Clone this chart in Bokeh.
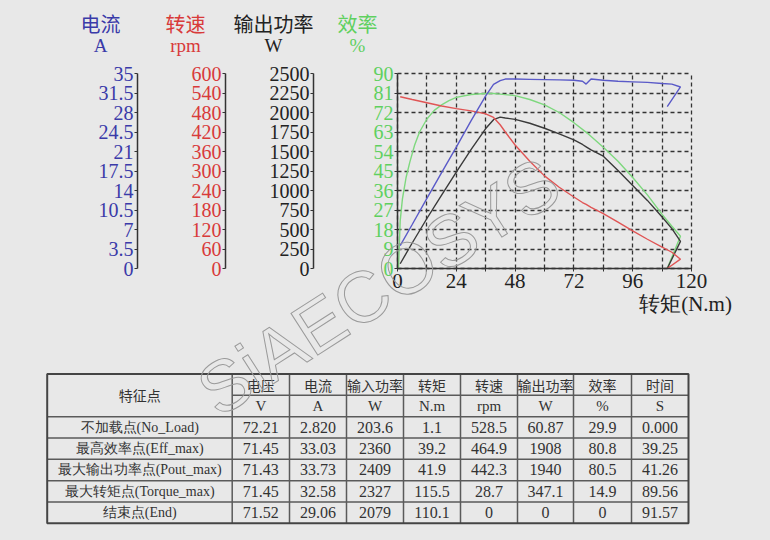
from bokeh.plotting import figure
from bokeh.models import Range1d, LinearAxis, FixedTicker, Label, ColumnDataSource, Grid
from bokeh.embed import file_html
from bokeh.resources import INLINE
from bokeh.core.properties import value

# ---------------- data ----------------
torque = [1.1, 6, 12, 18, 24, 30, 36, 39.2, 41.9, 44, 48, 54, 60, 66, 72, 75.5, 77, 79,
          84, 90, 96, 102, 108, 112, 115.5, 110.1]
current_a = [4.1, 7.9, 12.6, 17.2, 21.8, 26.5, 31.0, 33.03, 33.73, 34.0, 34.0, 33.95, 33.9,
             33.85, 33.8, 33.6, 33.1, 34.0, 33.8, 33.6, 33.5, 33.4, 33.2, 33.1, 32.58, 29.06]
speed_rpm = [528.5, 520, 510, 500, 492, 485, 476, 464.9, 442.3, 420, 380, 330, 285, 250, 220,
             203, 197, 188, 169, 143, 116, 90, 66, 50, 28.7, 0]
power_w = [60.87, 327, 641, 942, 1236, 1523, 1794, 1908, 1940, 1930, 1912, 1862, 1798, 1725,
           1648, 1590, 1560, 1520, 1440, 1256, 1065, 873, 660, 511, 347.1, 0]
eff_torque = [0.4, 1.1, 2, 3.5, 5, 7, 9, 12, 15, 18, 21, 24, 30, 36, 39.2, 41.9, 48, 54, 60, 66,
              72, 78, 84, 90, 96, 102, 108, 112, 115.5, 110.1]
eff_pct = [0, 22, 32, 42, 49, 57, 63, 69, 73, 75.5, 77.5, 79, 80.3, 80.8, 80.8, 80.5, 79.8, 78,
           75.5, 72, 67.3, 62, 56, 49.5, 42, 34, 25, 19.5, 14.9, 0]

x_ticks = [0, 24, 48, 72, 96, 120]
x_minor = [12, 36, 60, 84, 108]
eff_ticks = [0, 9, 18, 27, 36, 45, 54, 63, 72, 81, 90]
current_ticks = [0, 3.5, 7, 10.5, 14, 17.5, 21, 24.5, 28, 31.5, 35]
speed_ticks = [0, 60, 120, 180, 240, 300, 360, 420, 480, 540, 600]
power_ticks = [0, 250, 500, 750, 1000, 1250, 1500, 1750, 2000, 2250, 2500]

titles = ["电流", "转速", "输出功率", "效率"]
units = ["A", "rpm", "W", "%"]
x_title = "转矩(N.m)"
watermark = "SiAECOSYS"

tbl_head = ["特征点", "电压", "电流", "输入功率", "转矩", "转速", "输出功率", "效率", "时间"]
tbl_units = ["V", "A", "W", "N.m", "rpm", "W", "%", "S"]
tbl_points = ["不加载点(No_Load)", "最高效率点(Eff_max)", "最大输出功率点(Pout_max)",
              "最大转矩点(Torque_max)", "结束点(End)"]
tbl_voltage = ["72.21", "71.45", "71.43", "71.45", "71.52"]
tbl_current = ["2.820", "33.03", "33.73", "32.58", "29.06"]
tbl_pin = ["203.6", "2360", "2409", "2327", "2079"]
tbl_torque = ["1.1", "39.2", "41.9", "115.5", "110.1"]
tbl_speed = ["528.5", "464.9", "442.3", "28.7", "0"]
tbl_pout = ["60.87", "1908", "1940", "347.1", "0"]
tbl_eff = ["29.9", "80.8", "80.5", "14.9", "0"]
tbl_time = ["0.000", "39.25", "41.26", "89.56", "91.57"]

# ---------------- style / geometry ----------------
BG = "#e8e8e8"
BLUE_T, RED_T, BLACK_T, GREEN_T = "#3a3aa8", "#d83a3a", "#222222", "#5fd05f"
BLUE_L, RED_L, BLACK_L, GREEN_L = "#5a5ac8", "#e05555", "#3a3a3a", "#7ed87e"
AX = "#333333"
NUMFONT = "Liberation Serif"
CJK = "Noto Sans CJK SC"

W, H = 766, 536                 # canvas (Bokeh page template has no body margin)
PX0, PX1, PY0, PY1 = 0, W, 0, H
# chart frame in page pixels
CL, CR, CT, CB = 397.0, 691.0, 73.0, 268.0


def lin(page, p0, p1, v0, v1):
    return v0 + (page - p0) * (v1 - v0) / (p1 - p0)


def xr():
    return Range1d(lin(PX0, CL, CR, 0, 120), lin(PX1, CL, CR, 0, 120))


def yr(vmax):
    return Range1d(lin(PY1, CB, CT, 0, vmax), lin(PY0, CB, CT, 0, vmax))


p = figure(width=W, height=H, output_backend="svg", toolbar_location=None,
           x_range=xr(), y_range=yr(90),
           x_axis_location=None, y_axis_location=None,
           min_border=0, min_border_left=0, min_border_right=0,
           min_border_top=0, min_border_bottom=0)
p.background_fill_color = BG
p.border_fill_color = BG
p.outline_line_color = None
p.grid.visible = False

p.extra_y_ranges = {"current": yr(35), "speed": yr(600), "power": yr(2500),
                    "py": Range1d(PY1, PY0)}
p.extra_x_ranges = {"px": Range1d(PX0, PX1)}

# dashed grid of the chart
gx = Grid(dimension=0, ticker=FixedTicker(ticks=sorted(x_ticks + x_minor)),
          bounds=(0, 120), cross_bounds=(0, 90),
          grid_line_color=AX, grid_line_dash="4 3", grid_line_width=1.3)
gy = Grid(dimension=1, ticker=FixedTicker(ticks=eff_ticks),
          bounds=(0, 90), cross_bounds=(0, 120),
          grid_line_color=AX, grid_line_dash="4 3", grid_line_width=1.3)
p.add_layout(gx)
p.add_layout(gy)

# x axis
xa = LinearAxis(fixed_location=0, bounds=(0, 120),
                ticker=FixedTicker(ticks=x_ticks, minor_ticks=x_minor))
xa.major_label_text_font = NUMFONT
xa.major_label_text_font_size = "21px"
xa.major_label_text_color = BLACK_T
xa.axis_line_color = AX
xa.axis_line_width = 1.5
xa.major_tick_line_color = AX
xa.minor_tick_line_color = AX
xa.major_tick_in = 3
xa.major_tick_out = 3
xa.minor_tick_in = 3
xa.minor_tick_out = 3
xa.major_label_standoff = 2
p.add_layout(xa, "below")


def y_axis(range_name, ticks, color, loc, xname):
    ax = LinearAxis(y_range_name=range_name, x_range_name=xname, fixed_location=loc,
                    bounds=(ticks[0], ticks[-1]), ticker=FixedTicker(ticks=ticks))
    ax.major_label_overrides = {t: f"{t:g}" for t in ticks}
    ax.major_label_text_font = NUMFONT
    ax.major_label_text_font_size = "20px"
    ax.major_label_text_color = color
    ax.axis_line_color = AX
    ax.axis_line_width = 1.5
    ax.major_tick_line_color = AX
    ax.major_tick_in = 0
    ax.major_tick_out = 3
    ax.minor_tick_line_color = None
    ax.major_label_standoff = 1
    p.add_layout(ax, "left")


y_axis("default", eff_ticks, GREEN_T, 0, "default")
y_axis("power", power_ticks, BLACK_T, 313, "px")
y_axis("speed", speed_ticks, RED_T, 225, "px")
y_axis("current", current_ticks, BLUE_T, 137, "px")

# curves
p.line(eff_torque, eff_pct, color=GREEN_L, line_width=1.4)
p.line(torque, power_w, y_range_name="power", color=BLACK_L, line_width=1.4)
p.line(torque, speed_rpm, y_range_name="speed", color=RED_L, line_width=1.4)
p.line(torque, current_a, y_range_name="current", color=BLUE_L, line_width=1.4)

# axis titles (page-pixel coordinates)
for tt, u, xc, c in zip(titles, units, [100, 185, 273, 357], [BLUE_T, RED_T, BLACK_T, GREEN_T]):
    p.add_layout(Label(x=xc, y=23, x_range_name="px", y_range_name="py", text=tt,
                       text_align="center", text_baseline="middle", text_font=CJK,
                       text_font_size="20px", text_color=c))
    p.add_layout(Label(x=xc, y=45, x_range_name="px", y_range_name="py", text=u,
                       text_align="center", text_baseline="middle", text_font=NUMFONT,
                       text_font_size="19px", text_color=c))

p.add_layout(Label(x=685, y=303, x_range_name="px", y_range_name="py", text=x_title,
                   text_align="center", text_baseline="middle", text_font=NUMFONT,
                   text_font_size="21px", text_color=BLACK_T))

# ---------------- table ----------------
col_edges = [46.7, 231.7, 289, 346, 403, 460, 517, 573, 631, 688]
row_edges = [373.5 + 21.33 * i for i in range(8)]

hx0, hx1, hy = [], [], []
for i, y in enumerate(row_edges[1:-1], start=1):
    hx0.append(col_edges[1] if i == 1 else col_edges[0])
    hx1.append(col_edges[-1])
    hy.append(y)
p.segment(x0=hx0, x1=hx1, y0=hy, y1=hy, x_range_name="px", y_range_name="py",
          line_color="#5a5a5a", line_width=1.5)
vx = col_edges[1:-1]
p.segment(x0=vx, x1=vx, y0=[row_edges[0]] * len(vx), y1=[row_edges[-1]] * len(vx),
          x_range_name="px", y_range_name="py", line_color="#5a5a5a", line_width=1.5)
p.quad(left=[col_edges[0]], right=[col_edges[-1]], top=[row_edges[0]], bottom=[row_edges[-1]],
       x_range_name="px", y_range_name="py", fill_color=None, line_color="#444444",
       line_width=2)


def cx(j):
    return (col_edges[j] + col_edges[j + 1]) / 2


def cy(i):
    return (row_edges[i] + row_edges[i + 1]) / 2


head_src = ColumnDataSource(dict(
    x=[cx(j) for j in range(9)],
    y=[(row_edges[0] + row_edges[2]) / 2] + [cy(0)] * 8,
    text=tbl_head))
p.text(x="x", y="y", text="text", source=head_src, x_range_name="px", y_range_name="py",
       text_align="center", text_baseline="middle", text_font=value(CJK),
       text_font_size="14px", text_color="#333333")

unit_src = ColumnDataSource(dict(x=[cx(j) for j in range(1, 9)], y=[cy(1)] * 8,
                                 text=tbl_units))
p.text(x="x", y="y", text="text", source=unit_src, x_range_name="px", y_range_name="py",
       text_align="center", text_baseline="middle", text_font=value(NUMFONT),
       text_font_size="15px", text_color="#333333")

label_src = ColumnDataSource(dict(x=[cx(0)] * len(tbl_points),
                                  y=[cy(i + 2) for i in range(len(tbl_points))],
                                  text=tbl_points))
p.text(x="x", y="y", text="text", source=label_src, x_range_name="px", y_range_name="py",
       text_align="center", text_baseline="middle", text_font=value(NUMFONT),
       text_font_size="14px", text_color="#333333")

cols = [tbl_voltage, tbl_current, tbl_pin, tbl_torque, tbl_speed, tbl_pout, tbl_eff, tbl_time]
xs, ys, txt = [], [], []
for j, colvals in enumerate(cols, start=1):
    for i, v in enumerate(colvals):
        xs.append(cx(j))
        ys.append(cy(i + 2))
        txt.append(v)
body_src = ColumnDataSource(dict(x=xs, y=ys, text=txt))
p.text(x="x", y="y", text="text", source=body_src, x_range_name="px", y_range_name="py",
       text_align="center", text_baseline="middle", text_font=value(NUMFONT),
       text_font_size="16px", text_color="#333333")

# watermark (outlined text)
p.add_layout(Label(x=378, y=286, x_range_name="px", y_range_name="py", text=watermark,
                   text_align="center", text_baseline="middle", angle=0.57,
                   text_font="Liberation Sans", text_font_size="72px",
                   text_color="#e8e8e800", text_alpha=1.0, text_outline_color="#9a9a9a"))

html = file_html(p, INLINE, title="motor curve")
html = html.replace("</head>", "<style>body{background:#e8e8e8;}</style></head>", 1)
open("out.html", "w").write(html)
